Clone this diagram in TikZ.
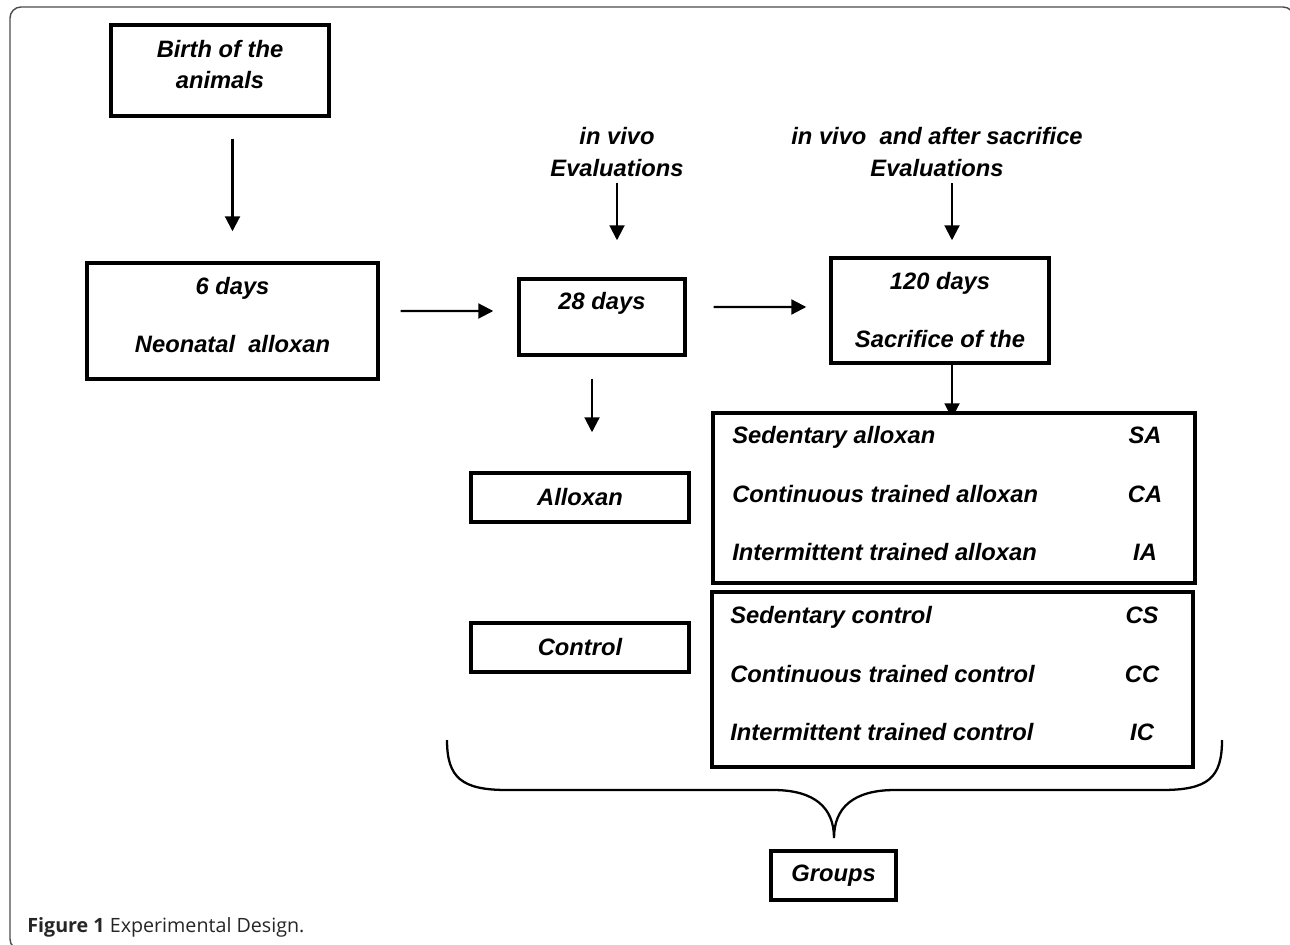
\documentclass[tikz,border=0pt]{standalone}
\usepackage{xcolor}
\usepackage{tikz}
\usepackage{fontspec}
\setmainfont{Liberation Sans}
\newfontfamily\capfont{Open Sans}
\usetikzlibrary{arrows.meta}
\pgfdeclarelayer{nodelayer}
\pgfdeclarelayer{edgelayer}
\pgfsetlayers{edgelayer,nodelayer,main}
\newcommand{\figfont}{\fontsize{13.5}{17.6}\selectfont\bfseries\itshape}
\newcommand{\lowstrut}{\rule[-0.24cm]{0pt}{0pt}}
\tikzstyle{box}=[fill=white, draw=black, shape=rectangle, line width=2pt, align=center, font=\figfont, inner sep=0pt]
\tikzstyle{plain}=[fill=none, draw=none, align=center, font=\figfont, inner sep=0pt]
\tikzstyle{caption}=[fill=none, draw=none, inner sep=0pt, text=black!85, font=\capfont\fontsize{11.2}{13}\selectfont]
\tikzstyle{arrow}=[draw=black, line width=1.2pt, -{Triangle[length=8.5pt, width=8.5pt]}]
\tikzstyle{brace}=[draw=black, line width=1.3pt]
\tikzstyle{frame}=[draw=black!70, line width=0.8pt, rounded corners=0.22cm]

\begin{document}
\begin{tikzpicture}[x=0.02cm, y=-0.02cm]
	\useasboundingbox (0, 0) rectangle (1290, 945);
	\clip (0, 0) rectangle (1290, 945);
	\draw [style=frame] (10, 7) rectangle (1294, 950);
	\begin{pgfonlayer}{nodelayer}
		\node [style=box, minimum width=4.36cm, minimum height=1.82cm] (0) at (220, 70.5) {Birth of the\\animals\lowstrut};
		\node [style=box, minimum width=5.82cm, minimum height=2.32cm] (1) at (232.5, 321) {6 days\\[15.4pt]Neonatal~~alloxan\lowstrut};
		\node [style=box, minimum width=3.32cm, text height=0.62cm, text depth=0.9cm] (2) at (602, 317) {28 days};
		\node [style=box, minimum width=4.36cm, minimum height=2.10cm] (3) at (940, 310.5) {120 days\\[15.4pt]Sacrifice of the};
		\node [style=plain] (4) at (617, 152) {in vivo\\[0.6pt]Evaluations};
		\node [style=plain] (5) at (937, 152) {in vivo~~and after sacrifice\\[0.6pt]Evaluations};
		\node [style=box, minimum width=4.36cm, minimum height=0.98cm] (6) at (580, 497.5) {Alloxan};
		\node [style=box, minimum width=4.36cm, minimum height=0.98cm] (7) at (580, 647.5) {Control};
		\node [style=box, minimum width=9.64cm, minimum height=3.40cm] (8) at (954, 498) {};
		\node [style=box, minimum width=9.62cm, minimum height=3.50cm] (9) at (952.5, 679.5) {};
		\node [style=box, minimum width=2.50cm, minimum height=0.98cm] (10) at (833.5, 875.5) {Groups};
		\node [style=plain, anchor=base west] (11) at (732, 443) {Sedentary alloxan};
		\node [style=plain, anchor=base] (12) at (1145, 443) {SA};
		\node [style=plain, anchor=base west] (13) at (732, 502) {Continuous trained alloxan};
		\node [style=plain, anchor=base] (14) at (1145, 502) {CA};
		\node [style=plain, anchor=base west] (15) at (732, 560) {Intermittent trained alloxan};
		\node [style=plain, anchor=base] (16) at (1145, 560) {IA};
		\node [style=plain, anchor=base west] (17) at (730, 623) {Sedentary control};
		\node [style=plain, anchor=base] (18) at (1142, 623) {CS};
		\node [style=plain, anchor=base west] (19) at (730, 682) {Continuous trained control};
		\node [style=plain, anchor=base] (20) at (1142, 682) {CC};
		\node [style=plain, anchor=base west] (21) at (730, 740) {Intermittent trained control};
		\node [style=plain, anchor=base] (22) at (1142, 740) {IC};
		\node [style=caption, anchor=base west] (23) at (27, 932) {\textbf{Figure 1} Experimental Design.};
	\end{pgfonlayer}
	\begin{pgfonlayer}{edgelayer}
		\draw [style=arrow, shorten <=0.42cm, shorten >=0.6cm] (1.north |- 0.south) to (1.north);
		\draw [style=arrow, shorten <=0.42cm, shorten >=0.48cm] ([yshift=0.2cm]1.east) to ([yshift=0.12cm]2.west);
		\draw [style=arrow, shorten <=0.54cm, shorten >=0.46cm] ([yshift=0.2cm]2.east) to ([yshift=0.07cm]3.west);
		\draw [style=arrow, shorten <=0.12cm, shorten >=0.74cm] (4.south) to (4.south |- 2.north);
		\draw [style=arrow, shorten <=0.12cm, shorten >=0.32cm] ([xshift=0.3cm]5.south) to ([xshift=0.3cm]5.south |- 3.north);
		\draw [style=arrow, shorten >=-0.14cm] ([xshift=0.24cm]3.south) to ([xshift=0.24cm]3.south |- 8.north);
		\draw [style=arrow, shorten <=0.44cm, shorten >=0.78cm] ([xshift=-0.2cm]2.south) to ([xshift=-0.2cm]2.south |- 6.north);
		\draw [style=brace] (447, 740) .. controls (447, 778) and (462, 790) .. (507, 790) to (773, 790) .. controls (815, 790) and (834, 808) .. (834, 838) .. controls (834, 808) and (853, 790) .. (895, 790) to (1162, 790) .. controls (1208, 790) and (1222, 778) .. (1222, 740);
	\end{pgfonlayer}
\end{tikzpicture}
\end{document}
